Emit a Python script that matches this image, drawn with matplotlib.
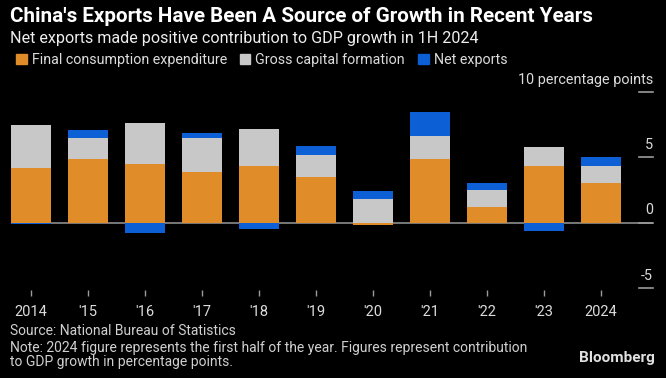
import numpy as np
import matplotlib.pyplot as plt
from matplotlib.patches import Patch
import matplotlib.transforms as mtransforms

years = ["2014", "'15", "'16", "'17", "'18", "'19", "'20", "'21", "'22", "'23", "2024"]
consumption = [4.2, 4.9, 4.5, 3.9, 4.3, 3.5, -0.2, 4.9, 1.2, 4.3, 3.0]
capital = [3.3, 1.6, 3.1, 2.6, 2.9, 1.7, 1.8, 1.7, 1.3, 1.5, 1.3]
net_exports = [-0.1, 0.6, -0.8, 0.4, -0.5, 0.7, 0.6, 1.9, 0.5, -0.6, 0.7]

series = [("Final consumption expenditure", consumption, "#e08c28"),
          ("Gross capital formation", capital, "#c8c8c8"),
          ("Net exports", net_exports, "#0c5fd4")]

plt.rcParams['font.family'] = ['Roboto', 'DejaVu Sans']

W, H = 666, 378
fig = plt.figure(figsize=(W / 100, H / 100), dpi=100, facecolor="black")
ax = fig.add_axes([11 / W, 1 - 290 / H, (653 - 11) / W, (290 - 92) / H])
ax.set_facecolor("black")

x = np.arange(len(years))
pos = np.zeros(len(years))
neg = np.zeros(len(years))
for name, vals, color in series:
    vals = np.array(vals)
    bottom = np.where(vals >= 0, pos, neg)
    ax.bar(x, vals, width=0.7, bottom=bottom, color=color, zorder=2, label=name)
    pos = pos + np.where(vals >= 0, vals, 0)
    neg = neg + np.where(vals < 0, vals, 0)

ax.axhline(0, color="#8c8c8c", lw=1.2, zorder=1)
ax.set_xlim(-0.35, 10.91)
ax.set_ylim(-5.15, 10)
for s in ax.spines.values():
    s.set_visible(False)

ax.set_yticks([])
ax.set_xticks(x)
ax.set_xticklabels(years)
ax.tick_params(axis="x", colors="#9a9a9a", length=4, width=1, pad=7, labelsize=10.5, labelcolor="#dcdcdc")

# right side value labels, Bloomberg style
trans = mtransforms.blended_transform_factory(ax.transAxes, ax.transData)
for v in [-5, 0, 5, 10]:
    ax.plot([0.978, 1.0], [v, v], color="#9a9a9a", lw=1.2, transform=trans, clip_on=False)
    lab = "10 percentage points" if v == 10 else str(v)
    ax.text(1.0, v + 0.4, lab, transform=trans, ha="right", va="bottom",
            color="#dcdcdc", fontsize=10.4)

fig.text(10 / W, 1 - 17 / H, "China's Exports Have Been A Source of Growth in Recent Years",
         color="white", fontsize=14.9, fontweight="bold", va="center", ha="left")
fig.text(10 / W, 1 - 38 / H, "Net exports made positive contribution to GDP growth in 1H 2024",
         color="#eeeeee", fontsize=11.6, va="center", ha="left")

handles = [Patch(color=c, label=n) for n, v, c in series]
fig.legend(handles=handles, loc="center left", bbox_to_anchor=(3 / W, 1 - 60 / H), ncol=3,
           frameon=False, fontsize=10.3, labelcolor="#dcdcdc", handlelength=0.75,
           handleheight=0.75, handletextpad=0.35, columnspacing=0.9)

fig.text(10 / W, 1 - 331 / H, "Source: National Bureau of Statistics",
         color="#d0d0d0", fontsize=10, va="center", ha="left")
fig.text(10 / W, 1 - 355 / H,
         "Note: 2024 figure represents the first half of the year. Figures represent contribution\n"
         "to GDP growth in percentage points.",
         color="#d0d0d0", fontsize=10, va="center", ha="left", linespacing=1.0)
fig.text(655 / W, 1 - 358 / H, "Bloomberg", color="#e0e0e0", fontsize=11,
         fontweight="bold", va="center", ha="right")

fig.savefig("out.png", dpi=100, facecolor="black")
